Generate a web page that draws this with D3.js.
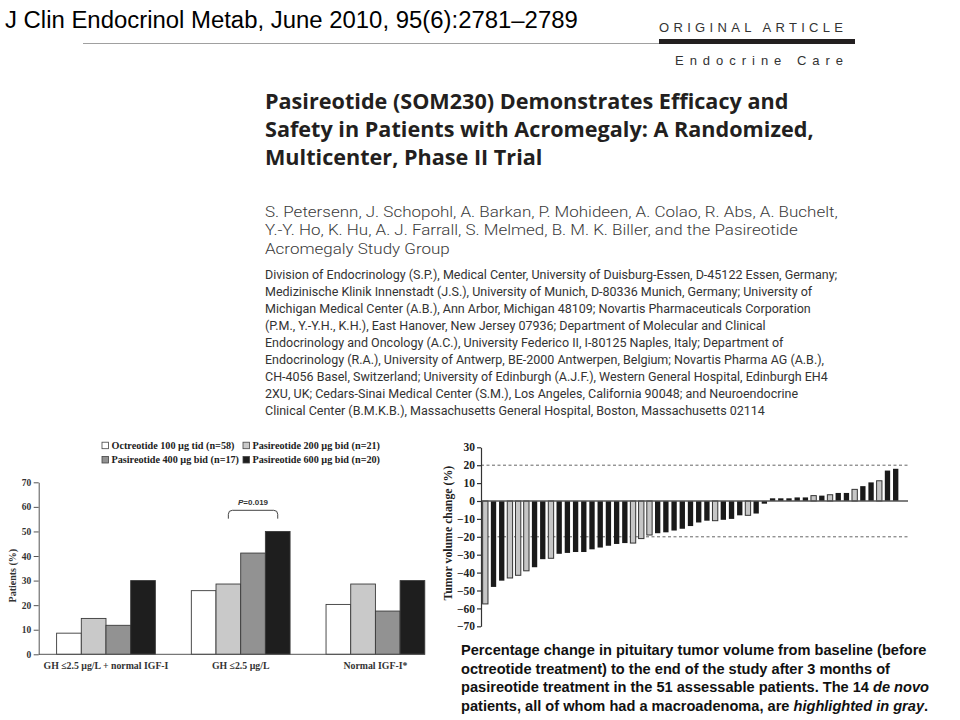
<!DOCTYPE html>
<html>
<head>
<meta charset="utf-8">
<script src="https://cdn.jsdelivr.net/npm/d3@7"></script>
<style>
  html, body { margin: 0; padding: 0; background: #fff; }
  svg { display: block; }
</style>
</head>
<body>
<script>
// ---------------- DATA ----------------
const journalRef = "J Clin Endocrinol Metab, June 2010, 95(6):2781\u20132789";
const sectionLabel = "ORIGINAL ARTICLE";
const sectionSub = "Endocrine Care";
const titleLines = [
  "Pasireotide (SOM230) Demonstrates Efficacy and",
  "Safety in Patients with Acromegaly: A Randomized,",
  "Multicenter, Phase II Trial"
];
const authorLines = [
  "S. Petersenn, J. Schopohl, A. Barkan, P. Mohideen, A. Colao, R. Abs, A. Buchelt,",
  "Y.-Y. Ho, K. Hu, A. J. Farrall, S. Melmed, B. M. K. Biller, and the Pasireotide",
  "Acromegaly Study Group"
];
const affiliationLines = [
  "Division of Endocrinology (S.P.), Medical Center, University of Duisburg-Essen, D-45122 Essen, Germany;",
  "Medizinische Klinik Innenstadt (J.S.), University of Munich, D-80336 Munich, Germany; University of",
  "Michigan Medical Center (A.B.), Ann Arbor, Michigan 48109; Novartis Pharmaceuticals Corporation",
  "(P.M., Y.-Y.H., K.H.), East Hanover, New Jersey 07936; Department of Molecular and Clinical",
  "Endocrinology and Oncology (A.C.), University Federico II, I-80125 Naples, Italy; Department of",
  "Endocrinology (R.A.), University of Antwerp, BE-2000 Antwerpen, Belgium; Novartis Pharma AG (A.B.),",
  "CH-4056 Basel, Switzerland; University of Edinburgh (A.J.F.), Western General Hospital, Edinburgh EH4",
  "2XU, UK; Cedars-Sinai Medical Center (S.M.), Los Angeles, California 90048; and Neuroendocrine",
  "Clinical Center (B.M.K.B.), Massachusetts General Hospital, Boston, Massachusetts 02114"
];

// Left chart: response rates (%)
const responseCategories = ["GH \u22642.5 \u00b5g/L + normal IGF-I", "GH \u22642.5 \u00b5g/L", "Normal IGF-I*"];
const seriesNames = [
  "Octreotide 100 \u00b5g tid (n=58)",
  "Pasireotide 200 \u00b5g bid (n=21)",
  "Pasireotide 400 \u00b5g bid (n=17)",
  "Pasireotide 600 \u00b5g bid (n=20)"
];
const octreotide100 = [8.6, 25.9, 20.3];
const pasireotide200 = [14.6, 28.6, 28.6];
const pasireotide400 = [11.8, 41.2, 17.6];
const pasireotide600 = [30, 50, 30];
const seriesColors = ["#ffffff", "#c9c9c9", "#929292", "#1e1e1e"];
const leftTicks = [0, 10, 20, 30, 40, 50, 60, 70];
const pValueText = "=0.019";

// Right chart: tumor volume change (%) per patient, sorted
const tumorChange = [
  -57.5, -48, -44.5, -43, -41.5, -39, -37, -32.5, -32, -29.5,
  -29, -28.5, -28.5, -27, -26, -25, -24, -23.5, -23.5, -21,
  -19, -18, -17.5, -16.5, -15.5, -14, -12, -11, -11, -10.5,
  -10, -8, -8, -7, -1.5, 1.5, 1.5, 1.5, 2, 2,
  3, 3, 3.5, 4.5, 4.5, 6.5, 8.3, 10.4, 11.3, 17, 18
];
// 1 = de novo patient (gray), 0 = other (black)
const deNovo = [
  1, 0, 0, 1, 1, 1, 0, 0, 1, 0,
  0, 0, 0, 0, 0, 0, 0, 0, 1, 1,
  1, 0, 0, 0, 0, 0, 0, 0, 1, 0,
  0, 0, 1, 0, 0, 0, 0, 0, 0, 0,
  1, 0, 1, 0, 0, 1, 0, 0, 1, 0, 0
];
const rightTicks = [-70, -60, -50, -40, -30, -20, -10, 0, 10, 20, 30];
const thresholds = [20, -20];

const captionLines = [
  [{t: "Percentage change in pituitary tumor volume from baseline (before"}],
  [{t: "octreotide treatment) to the end of the study after 3 months of"}],
  [{t: "pasireotide treatment in the 51 assessable patients.  The 14 "}, {t: "de novo", i: true}],
  [{t: "patients, all of whom had a macroadenoma, are "}, {t: "highlighted in gray", i: true}, {t: "."}]
];

// ---------------- DRAW ----------------
const svg = d3.select("body").append("svg").attr("width", 960).attr("height", 720);
svg.append("rect").attr("width", 960).attr("height", 720).attr("fill", "#fff");

const SANS = "'Liberation Sans', Arial, sans-serif";
const SERIF = "'Liberation Serif', 'Times New Roman', serif";
const HUMAN = "'Open Sans', 'Noto Sans', sans-serif";
const BODY = "Roboto, 'Liberation Sans', sans-serif";

function fitSize(sel, target) {
  const len = sel.node().getComputedTextLength();
  return +sel.attr("font-size") * target / len;
}

// Header
const jr = svg.append("text").attr("x", 5).attr("y", 28)
  .attr("font-family", SANS).attr("font-size", 24).attr("fill", "#000").text(journalRef);
jr.attr("font-size", fitSize(jr, 573));

svg.append("line").attr("x1", 83).attr("x2", 659).attr("y1", 43.5).attr("y2", 43.5)
  .attr("stroke", "#a0a0a0").attr("stroke-width", 1.2);
svg.append("rect").attr("x", 659).attr("y", 39).attr("width", 196).attr("height", 5).attr("fill", "#231f20");
svg.append("text").attr("x", 659).attr("y", 32).attr("font-family", SANS).attr("font-size", 13)
  .attr("fill", "#333").attr("textLength", 184).attr("lengthAdjust", "spacing").text(sectionLabel);
svg.append("text").attr("x", 675).attr("y", 65).attr("font-family", SANS).attr("font-size", 13)
  .attr("fill", "#333").attr("textLength", 168).attr("lengthAdjust", "spacing").text(sectionSub);

// Title
const titleSel = svg.append("g").selectAll("text").data(titleLines).join("text")
  .attr("x", 265).attr("y", (d, i) => 109 + i * 28)
  .attr("font-family", HUMAN).attr("font-weight", 700).attr("font-size", 20)
  .attr("fill", "#231f20").text(d => d);
const tfs = fitSize(d3.select(titleSel.nodes()[1]), 549);
titleSel.attr("font-size", tfs);

// Authors (horizontally fitted)
const authG = svg.append("g");
const authSel = authG.selectAll("text").data(authorLines).join("text")
  .attr("x", 0).attr("y", (d, i) => 217 + i * 18.5)
  .attr("font-family", BODY).attr("font-weight", 300).attr("font-size", 15.5)
  .attr("fill", "#3a3a3a").text(d => d);
const authLen = authSel.nodes()[0].getComputedTextLength();
authG.attr("transform", `translate(265,0) scale(${573 / authLen},1)`);

// Affiliations (condensed)
const affG = svg.append("g");
const affSel = affG.selectAll("text").data(affiliationLines).join("text")
  .attr("x", 0).attr("y", (d, i) => 279 + i * 17)
  .attr("font-family", BODY).attr("font-size", 13.5)
  .attr("fill", "#333").text(d => d);
const affLen = affSel.nodes()[0].getComputedTextLength();
affG.attr("transform", `translate(265,0) scale(${573 / affLen},1)`);

// ---------- Left chart ----------
const yL = d3.scaleLinear().domain([0, 70]).range([654.3, 482.3]);
const x0 = d3.scaleBand().domain(responseCategories).range([38.7, 442.7])
  .paddingInner(0.267).paddingOuter(0.133);
const x1 = d3.scaleBand().domain(seriesNames).range([0, x0.bandwidth()]);
const seriesValues = [octreotide100, pasireotide200, pasireotide400, pasireotide600];
const color = d3.scaleOrdinal().domain(seriesNames).range(seriesColors);

const left = svg.append("g");
const groups = left.selectAll("g.grp").data(responseCategories).join("g")
  .attr("class", "grp").attr("transform", d => `translate(${x0(d)},0)`);
groups.selectAll("rect").data((c, ci) => seriesNames.map((s, si) => ({s, v: seriesValues[si][ci]})))
  .join("rect")
  .attr("x", d => x1(d.s)).attr("width", x1.bandwidth())
  .attr("y", d => yL(d.v)).attr("height", d => yL(0) - yL(d.v))
  .attr("fill", d => color(d.s)).attr("stroke", "#3a3a3a").attr("stroke-width", 0.9);

// baseline
left.append("line").attr("x1", 38.7).attr("x2", 425).attr("y1", yL(0)).attr("y2", yL(0))
  .attr("stroke", "#555").attr("stroke-width", 1);
const axL = left.append("g").attr("transform", "translate(38.7,0)")
  .call(d3.axisLeft(yL).tickValues(leftTicks).tickSize(5).tickSizeOuter(0).tickPadding(2.5));
axL.select(".domain").attr("stroke", "#555");
axL.selectAll(".tick line").attr("stroke", "#555");
axL.selectAll(".tick text").attr("font-family", SERIF).attr("font-weight", 700)
  .attr("font-size", 9.5).attr("fill", "#333");

left.append("text").attr("transform", `translate(16,${yL(32)}) rotate(-90)`)
  .attr("text-anchor", "middle").attr("font-family", SERIF).attr("font-weight", 700)
  .attr("font-size", 10).attr("fill", "#333").text("Patients (%)");

left.selectAll("text.xl").data(responseCategories).join("text").attr("class", "xl")
  .attr("x", d => x0(d) + x0.bandwidth() / 2).attr("y", 669)
  .attr("text-anchor", "middle").attr("font-family", SERIF).attr("font-weight", 700)
  .attr("font-size", 9.8).attr("fill", "#333").text(d => d);

// P-value bracket
{
  const cat = responseCategories[1];
  const xa = x0(cat) + x1(seriesNames[1]) + x1.bandwidth() / 2;
  const xb = x0(cat) + x1(seriesNames[3]) + x1.bandwidth() / 2;
  const yTop = yL(58.6), yBot = yL(55.2), r = 4;
  const p = d3.path();
  p.moveTo(xa, yBot);
  p.lineTo(xa, yTop + r);
  p.quadraticCurveTo(xa, yTop, xa + r, yTop);
  p.lineTo(xb - r, yTop);
  p.quadraticCurveTo(xb, yTop, xb, yTop + r);
  p.lineTo(xb, yBot);
  left.append("path").attr("d", p.toString()).attr("fill", "none")
    .attr("stroke", "#444").attr("stroke-width", 1);
  const pt = left.append("text").attr("x", (xa + xb) / 2).attr("y", yL(60.8))
    .attr("text-anchor", "middle").attr("font-family", SANS).attr("font-weight", 700)
    .attr("font-size", 8).attr("fill", "#333");
  pt.append("tspan").attr("font-style", "italic").text("P");
  pt.append("tspan").text(pValueText);
}

// Legend
{
  const lg = svg.append("g");
  const pos = [[102, 445.7], [243, 445.7], [102, 460], [243, 460]];
  seriesNames.forEach((s, i) => {
    const [lx, ly] = pos[i];
    lg.append("rect").attr("x", lx).attr("y", ly - 3.5).attr("width", 6.5).attr("height", 6.5)
      .attr("fill", color(s)).attr("stroke", "#444").attr("stroke-width", 0.8);
    lg.append("text").attr("x", lx + 9.5).attr("y", ly + 3.3)
      .attr("font-family", SERIF).attr("font-weight", 700).attr("font-size", 10.2)
      .attr("fill", "#222").text(s);
  });
}

// ---------- Right chart ----------
const yR = d3.scaleLinear().domain([-70, 30]).range([626.3, 447.3]);
const xR = d3.scaleBand().domain(d3.range(tumorChange.length)).range([481, 900])
  .paddingInner(0.35).paddingOuter(0.2);
const right = svg.append("g");

right.selectAll("line.th").data(thresholds).join("line").attr("class", "th")
  .attr("x1", 481).attr("x2", 908).attr("y1", d => yR(d)).attr("y2", d => yR(d))
  .attr("stroke", "#666").attr("stroke-width", 1).attr("stroke-dasharray", "3,2.5");

right.selectAll("rect").data(tumorChange).join("rect")
  .attr("x", (d, i) => xR(i)).attr("width", xR.bandwidth())
  .attr("y", d => yR(Math.max(0, d))).attr("height", d => Math.abs(yR(d) - yR(0)))
  .attr("fill", (d, i) => deNovo[i] ? "#c6c6c6" : "#1a1a1a")
  .attr("stroke", (d, i) => deNovo[i] ? "#333" : "none").attr("stroke-width", 1);

right.append("line").attr("x1", 481).attr("x2", 908).attr("y1", yR(0)).attr("y2", yR(0))
  .attr("stroke", "#555").attr("stroke-width", 1.6);

const axR = right.append("g").attr("transform", "translate(481,0)")
  .call(d3.axisLeft(yR).tickValues(rightTicks).tickSize(4).tickSizeOuter(0).tickPadding(2).tickFormat(d3.format("d")));
axR.select(".domain").attr("stroke", "#333").attr("stroke-width", 1.2);
axR.selectAll(".tick line").attr("stroke", "#333").attr("stroke-width", 1.2);
axR.selectAll(".tick text").attr("font-family", SERIF).attr("font-weight", 700)
  .attr("font-size", 11.5).attr("fill", "#222");

right.append("text").attr("transform", `translate(452,${yR(-18)}) rotate(-90)`)
  .attr("text-anchor", "middle").attr("font-family", SERIF).attr("font-weight", 700)
  .attr("font-size", 11.8).attr("fill", "#222").text("Tumor volume change (%)");

// Caption
{
  const cg = svg.append("g");
  const lines = cg.selectAll("text").data(captionLines).join("text")
    .attr("x", 461).attr("y", (d, i) => 655 + i * 18.7)
    .attr("font-family", SANS).attr("font-weight", 700).attr("font-size", 14).attr("fill", "#111");
  lines.selectAll("tspan").data(d => d).join("tspan")
    .attr("font-style", d => d.i ? "italic" : null).text(d => d.t);
  const fs = fitSize(d3.select(lines.nodes()[0]), 466);
  lines.attr("font-size", fs);
}
</script>
</body>
</html>
